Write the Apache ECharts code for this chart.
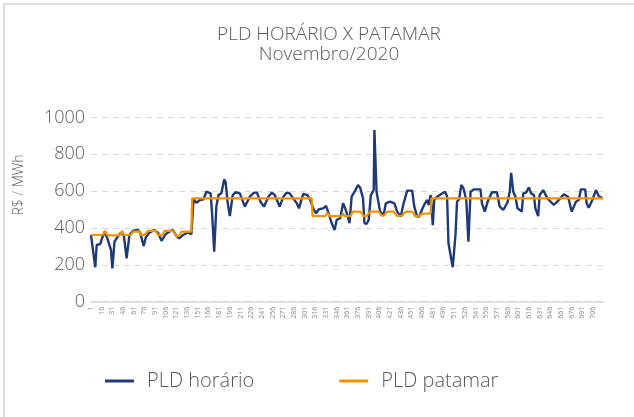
<!DOCTYPE html>
<html>
<head>
    <meta charset="utf-8">
    <title>PLD horário x patamar</title>
    <script src="https://cdn.jsdelivr.net/npm/echarts@6/dist/echarts.min.js"></script>
    <style>
        html, body { margin: 0; padding: 0; background: #fff; }
    </style>
</head>
<body>
<div id="main" style="width: 634px;height:417px;"></div>

<script type="text/javascript">
    // horas do mês (eixo x)
    let horas = []
    for (let h = 1; h <= 720; h++) horas.push(String(h))

    let yTicks = [0, 200, 400, 600, 800, 1000]

    // PLD horário: vértices (hora, R$/MWh)
    let horarioHoras = [1, 7, 9, 14, 17, 20, 24, 29, 31, 34, 38, 43, 47, 51, 55, 60, 67, 70, 75, 78,
        83, 90, 95, 100, 106, 111, 116, 121, 125, 130, 137, 142, 143, 145, 149, 154, 159, 163, 169, 171,
        174, 177, 180, 184, 188, 190, 193, 196, 200, 204, 210, 217, 224, 230, 234, 239, 244, 250, 255, 259,
        264, 266, 271, 276, 280, 285, 290, 293, 299, 305, 309, 313, 317, 321, 327, 331, 334, 339, 343, 346,
        351, 355, 358, 361, 364, 367, 372, 376, 379, 383, 385, 388, 391, 394, 398, 399, 402, 407, 412, 415,
        421, 427, 431, 436, 440, 445, 452, 455, 459, 462, 466, 470, 473, 475, 478, 481, 483, 487, 493, 498,
        501, 503, 509, 513, 515, 518, 521, 524, 528, 531, 534, 539, 548, 550, 554, 558, 564, 571, 575, 580,
        586, 589, 591, 594, 597, 600, 606, 608, 612, 616, 619, 623, 625, 629, 631, 636, 642, 651, 660, 665,
        671, 676, 682, 686, 689, 695, 697, 700, 705, 710, 714, 719]
    let horarioValores = [362, 187, 308, 313, 350, 380, 344, 281, 181, 326, 350, 375, 362, 235, 362, 385, 389, 375, 302, 350,
        375, 389, 375, 331, 367, 380, 389, 357, 344, 362, 375, 367, 362, 556, 537, 552, 556, 597, 588, 480,
        271, 516, 579, 588, 664, 651, 534, 465, 579, 594, 588, 516, 570, 592, 592, 543, 516, 570, 592, 579,
        534, 516, 570, 592, 588, 561, 534, 507, 585, 579, 552, 507, 480, 502, 507, 520, 489, 426, 389, 444,
        453, 534, 507, 471, 426, 570, 603, 634, 619, 561, 426, 422, 444, 579, 606, 932, 597, 489, 471, 534,
        543, 534, 489, 462, 534, 603, 603, 516, 462, 462, 502, 534, 552, 525, 579, 416, 552, 570, 585, 597,
        574, 317, 187, 371, 543, 556, 634, 616, 552, 326, 597, 610, 610, 534, 489, 543, 594, 594, 516, 498,
        540, 597, 700, 597, 570, 507, 489, 588, 592, 621, 588, 579, 507, 465, 579, 606, 561, 525, 561, 583,
        570, 489, 543, 552, 610, 610, 534, 510, 552, 606, 574, 561]

    // PLD patamar: vértices (hora, R$/MWh)
    let patamarHoras = [1, 17, 21, 24, 41, 45, 47, 57, 60, 69, 71, 76, 81, 92, 95, 102, 104, 116, 121, 125,
        128, 142, 143, 311, 312, 330, 333, 336, 353, 355, 357, 365, 369, 379, 384, 388, 393, 405, 409, 412,
        417, 426, 431, 438, 442, 445, 452, 456, 462, 466, 468, 478, 479, 720]
    let patamarValores = [362, 362, 384, 360, 360, 384, 362, 362, 380, 382, 362, 362, 384, 384, 362, 362, 384, 384, 357, 357,
        380, 380, 561, 561, 465, 465, 483, 465, 465, 478, 465, 465, 489, 489, 465, 465, 489, 489, 467, 467,
        489, 489, 465, 468, 485, 489, 489, 465, 465, 478, 480, 480, 561, 561]

    function pares(hs, vs) {
        return hs.map((h, i) => [h - 1, vs[i]])
    }

    let fonte = '"Open Sans", "Noto Sans", sans-serif'
    let cinza = '#595959'

    let myChart = echarts.init(document.getElementById('main'));
    let option = {
        animation: false,
        backgroundColor: '#ffffff',
        title: {
            text: 'PLD HORÁRIO X PATAMAR\nNovembro/2020',
            left: 324,
            textAlign: 'center',
            top: 20,
            textStyle: {
                fontFamily: fonte,
                fontWeight: 300,
                fontSize: 19,
                lineHeight: 20,
                color: cinza
            }
        },
        graphic: [
            {
                type: 'rect',
                shape: { x: 4, y: 4, width: 800, height: 600 },
                style: { fill: 'none', stroke: '#d4d4d4', lineWidth: 1.5 },
                silent: true
            },
            {
                type: 'text',
                x: 19,
                y: 185,
                rotation: Math.PI / 2,
                style: {
                    text: 'R$ / MWh',
                    fill: cinza,
                    font: '300 14px "Open Sans", sans-serif',
                    textAlign: 'center',
                    textVerticalAlign: 'middle'
                }
            }
        ],
        legend: {
            left: 100,
            top: 366,
            icon: 'rect',
            itemWidth: 29,
            itemHeight: 3,
            itemGap: 85,
            textStyle: {
                fontFamily: fonte,
                fontWeight: 300,
                fontSize: 20,
                color: cinza,
                padding: [0, 0, 0, 8]
            },
            data: ['PLD horário', 'PLD patamar']
        },
        grid: {
            left: 91,
            right: 31,
            top: 117.5,
            bottom: 115.3,
            containLabel: false
        },
        xAxis: {
            type: 'category',
            data: horas,
            boundaryGap: false,
            axisLine: { lineStyle: { color: '#d9d9d9', width: 1.5 } },
            axisTick: { show: false },
            axisLabel: {
                interval: 14,
                rotate: 90,
                fontSize: 7,
                color: '#8c8c8c',
                fontFamily: fonte,
                margin: 5
            }
        },
        yAxis: {
            type: 'value',
            min: yTicks[0],
            max: yTicks[yTicks.length - 1],
            interval: 200,
            axisLine: { show: false },
            axisTick: { show: false },
            axisLabel: {
                fontSize: 18,
                color: cinza,
                fontFamily: fonte,
                fontWeight: 300,
                margin: 6,
                formatter: (v) => String(v)
            },
            splitLine: {
                lineStyle: { color: '#d9d9d9', type: [6, 5], width: 1 }
            }
        },
        series: [
            {
                name: 'PLD horário',
                type: 'line',
                data: pares(horarioHoras, horarioValores),
                symbol: 'none',
                color: '#1f3a78',
                lineStyle: { width: 2.4, color: '#1f3a78' },
                z: 2
            },
            {
                name: 'PLD patamar',
                type: 'line',
                data: pares(patamarHoras, patamarValores),
                symbol: 'none',
                color: '#f39200',
                lineStyle: { width: 2.2, color: '#f39200' },
                z: 3
            }
        ]
    };
    myChart.setOption(option);
</script>
</body>
</html>
